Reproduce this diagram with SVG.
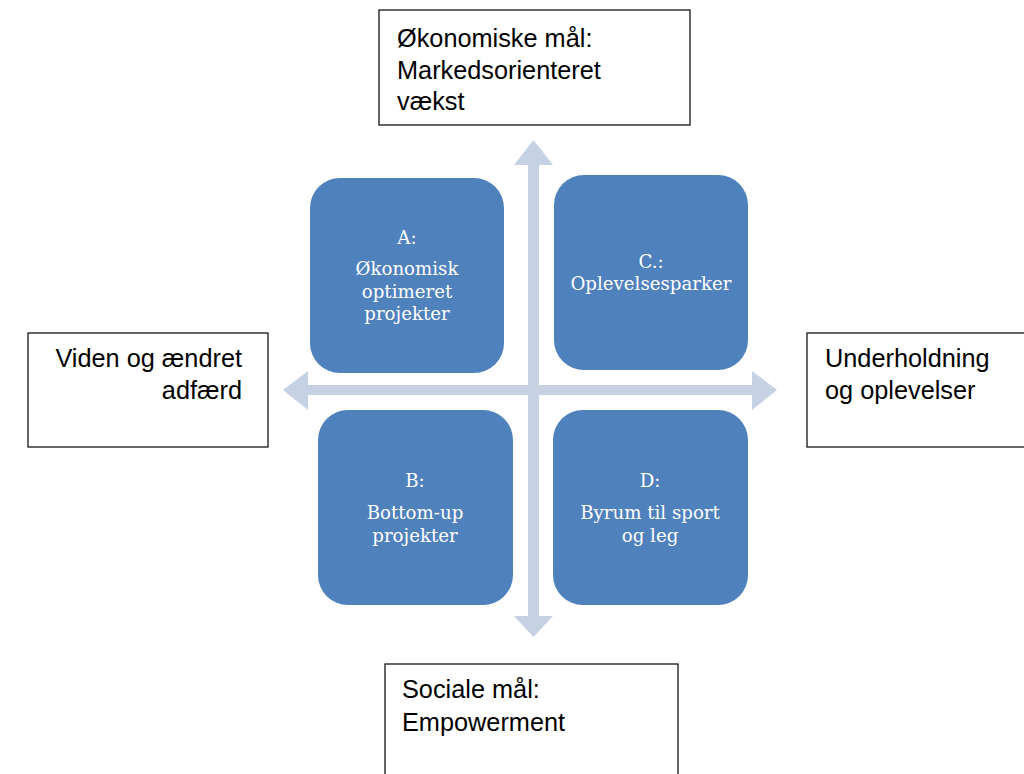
<svg xmlns="http://www.w3.org/2000/svg" width="1024" height="774" viewBox="0 0 1024 774">
<style>
.lbl{fill:#fff;stroke:#000;stroke-width:1.2}
.lt{font-family:"Liberation Sans",Arial,sans-serif;font-size:25.3px;fill:#000}
.q{fill:#4F81BD}
.qt{font-family:"DejaVu Serif",serif;font-size:18.2px;fill:#fff;text-anchor:middle}
.ar{fill:#C6D1E4}
</style>
<rect width="1024" height="774" fill="#fff"/>
<g id="connectors">
<polygon class="ar" points="533.5,140 553,165 539,165 539,616 553,616 533.5,637 514,616 528,616 528,165 514,165"/>
<polygon class="ar" points="283,390 308,371 308,385 752,385 752,371 777,390 752,410 752,395 308,395 308,410"/>
</g>
<g id="top">
<rect class="lbl" x="379" y="10" width="311" height="115"/>
<text class="lt" x="397" y="47">Økonomiske mål:</text>
<text class="lt" x="397" y="78.5">Markedsorienteret</text>
<text class="lt" x="397" y="110">vækst</text>
</g>
<g id="left">
<rect class="lbl" x="28" y="333" width="240" height="114"/>
<text class="lt" x="242" y="367" text-anchor="end">Viden og ændret</text>
<text class="lt" x="242" y="399" text-anchor="end">adfærd</text>
</g>
<g id="right">
<rect class="lbl" x="807" y="333" width="230" height="114"/>
<text class="lt" x="825" y="367">Underholdning</text>
<text class="lt" x="825" y="399">og oplevelser</text>
</g>
<g id="bottom">
<rect class="lbl" x="385" y="664" width="293" height="130"/>
<text class="lt" x="402" y="698">Sociale mål:</text>
<text class="lt" x="402" y="731">Empowerment</text>
</g>
<g id="A">
<rect class="q" x="310" y="178" width="194" height="195" rx="30"/>
<text class="qt" x="407" y="244">A:</text>
<text class="qt" x="407" y="275">Økonomisk</text>
<text class="qt" x="407" y="298">optimeret</text>
<text class="qt" x="407" y="320">projekter</text>
</g>
<g id="C">
<rect class="q" x="554" y="175" width="194" height="195" rx="30"/>
<text class="qt" x="651" y="268">C.:</text>
<text class="qt" x="651" y="290">Oplevelsesparker</text>
</g>
<g id="B">
<rect class="q" x="318" y="410" width="195" height="195" rx="30"/>
<text class="qt" x="415" y="487">B:</text>
<text class="qt" x="415" y="519">Bottom-up</text>
<text class="qt" x="415" y="542">projekter</text>
</g>
<g id="D">
<rect class="q" x="553" y="410" width="195" height="195" rx="30"/>
<text class="qt" x="650" y="487">D:</text>
<text class="qt" x="650" y="519">Byrum til sport</text>
<text class="qt" x="650" y="542">og leg</text>
</g>
</svg>
